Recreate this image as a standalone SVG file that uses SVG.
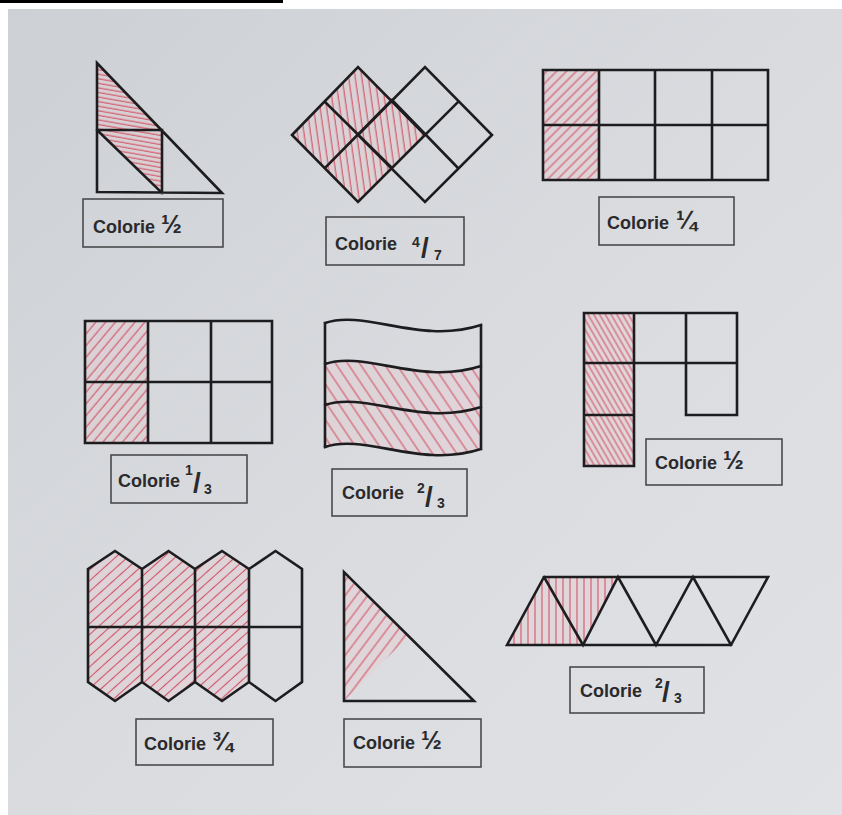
<svg xmlns="http://www.w3.org/2000/svg" width="842" height="815" viewBox="0 0 842 815">
<defs>
<linearGradient id="paper" x1="0" y1="0" x2="1" y2="1">
<stop offset="0" stop-color="#cdd0d4"/>
<stop offset="0.5" stop-color="#d9dbdf"/>
<stop offset="1" stop-color="#e0e2e6"/>
</linearGradient>
<pattern id="p1" width="10" height="4.5" patternUnits="userSpaceOnUse" patternTransform="rotate(10)"><line class="hl" x1="0" y1="2" x2="10" y2="2"/></pattern>
<pattern id="p2" width="6.5" height="10" patternUnits="userSpaceOnUse" patternTransform="rotate(-8)"><line class="hl" x1="3" y1="0" x2="3" y2="10"/></pattern>
<pattern id="p3" width="7" height="10" patternUnits="userSpaceOnUse" patternTransform="rotate(45)"><line class="hl" x1="3" y1="0" x2="3" y2="10"/></pattern>
<pattern id="p4" width="7.5" height="10" patternUnits="userSpaceOnUse" patternTransform="rotate(40)"><line class="hl" x1="3" y1="0" x2="3" y2="10"/></pattern>
<pattern id="p5" width="10" height="10" patternUnits="userSpaceOnUse" patternTransform="rotate(-34)"><line class="hl" x1="5" y1="0" x2="5" y2="10"/></pattern>
<pattern id="p6" width="5" height="10" patternUnits="userSpaceOnUse" patternTransform="rotate(-30)"><line class="hl" x1="2" y1="0" x2="2" y2="10"/></pattern>
<pattern id="p7" width="8" height="10" patternUnits="userSpaceOnUse" patternTransform="rotate(48)"><line class="hl" x1="3.5" y1="0" x2="3.5" y2="10"/></pattern>
<pattern id="p8" width="9" height="10" patternUnits="userSpaceOnUse" patternTransform="rotate(37)"><line class="hl" x1="4" y1="0" x2="4" y2="10"/></pattern>
<pattern id="p9" width="7" height="10" patternUnits="userSpaceOnUse"><line class="hl" x1="3" y1="0" x2="3" y2="10"/></pattern>
</defs>
<style>
.hl{stroke:#cf3d50;stroke-width:1.1;stroke-opacity:.85}
.tint{fill:#e9c9cf;fill-opacity:.35;stroke:none}
.sh{fill:none;stroke:#1d1d1f;stroke-width:2.6;stroke-linejoin:miter;stroke-linecap:square}
.box{fill:none;stroke:#4a4a4c;stroke-width:1.6}
.lbl{font-family:"Liberation Sans",Arial,sans-serif;font-weight:bold;font-size:18px;fill:#2a2a2c}
.fr{font-size:25px}
.sup{font-family:"Liberation Sans",Arial,sans-serif;font-weight:bold;font-size:14px;fill:#2a2a2c}
.sl{font-family:"Liberation Sans",Arial,sans-serif;font-weight:bold;font-size:28px;fill:#2a2a2c}
</style>
<rect width="842" height="815" fill="#ffffff"/>
<rect x="8" y="9" width="834" height="806" fill="url(#paper)"/>
<line x1="0" y1="1.5" x2="283" y2="1.5" stroke="#000" stroke-width="3"/>

<g id="fig1">
<path class="tint" d="M97,63 L97,130 L161,130 Z M97,130 L162,130 L162,193 Z"/>
<path fill="url(#p1)" d="M97,63 L97,130 L161,130 Z M97,130 L162,130 L162,193 Z"/>
<path class="sh" d="M97,63 L97,192 L222,193 Z M97,130 L162,130 L162,193 M97,130 L162,193"/>
<rect class="box" x="83" y="199" width="140" height="48"/>
<text class="lbl" x="93" y="233">Colorie<tspan class="fr" x="161">½</tspan></text>
</g>

<g id="fig2">
<path class="tint" d="M292,135 L358,67 L425,135 L358,202 Z"/>
<path fill="url(#p2)" d="M292,135 L358,67 L425,135 L358,202 Z"/>
<path class="sh" d="M292,135 L358,67 L425,135 L358,202 Z M358,135 L425,67 L492,135 L425,202 Z M325,102 L392,168 M325,168 L392,100 M392,100 L458,168 M392,168 L458,102"/>
<rect class="box" x="326" y="217" width="138" height="48"/>
<text class="lbl" x="335" y="250">Colorie</text>
<text class="sup" x="412" y="247">4</text>
<text class="sl" x="421" y="257">/</text>
<text class="sup" x="434" y="260">7</text>
</g>

<g id="fig3">
<rect class="tint" x="543" y="70" width="56" height="110"/>
<rect fill="url(#p3)" x="543" y="70" width="56" height="110"/>
<path class="sh" d="M543,70 H768 V180 H543 Z M599,70 V180 M655,70 V180 M712,70 V180 M543,125 H768"/>
<rect class="box" x="599" y="197" width="135" height="48"/>
<text class="lbl" x="607" y="229">Colorie<tspan class="fr" x="676">¼</tspan></text>
</g>

<g id="fig4">
<rect class="tint" x="85" y="321" width="63" height="122"/>
<rect fill="url(#p4)" x="85" y="321" width="63" height="122"/>
<path class="sh" d="M85,321 H272 V443 H85 Z M148,321 V443 M211,321 V443 M85,382 H272"/>
<rect class="box" x="111" y="455" width="136" height="48"/>
<text class="lbl" x="118" y="487">Colorie</text>
<text class="sup" x="185" y="475">1</text>
<text class="sl" x="193" y="492">/</text>
<text class="sup" x="204" y="494">3</text>
</g>

<g id="fig5">
<path class="tint" d="M325,364 C365,350 420,386 481,366 L481,449 C420,469 365,433 325,447 Z"/>
<path fill="url(#p5)" d="M325,364 C365,350 420,386 481,366 L481,449 C420,469 365,433 325,447 Z"/>
<path class="sh" d="M325,323 C365,309 420,345 481,325 M325,364 C365,350 420,386 481,366 M325,405 C365,391 420,427 481,407 M325,447 C365,433 420,469 481,449 M325,323 V447 M481,325 V449"/>
<rect class="box" x="332" y="469" width="135" height="47"/>
<text class="lbl" x="342" y="499">Colorie</text>
<text class="sup" x="417" y="493">2</text>
<text class="sl" x="425" y="506">/</text>
<text class="sup" x="437" y="508">3</text>
</g>

<g id="fig6">
<rect class="tint" x="584" y="313" width="50" height="153"/>
<rect fill="url(#p6)" x="584" y="313" width="50" height="153"/>
<path class="sh" d="M584,313 H737 V415 H686 V313 M584,313 V466 H634 V313 M584,363 H737 M584,415 H634"/>
<rect class="box" x="646" y="439" width="136" height="46"/>
<text class="lbl" x="655" y="469">Colorie<tspan class="fr" x="723">½</tspan></text>
</g>

<g id="fig7">
<path class="tint" d="M88,569 L115,551 L142,569 L168.5,551 L195,569 L222,551 L249,569 L249,682 L222,701 L195,682 L168.5,701 L142,682 L115,701 L88,682 Z"/>
<path fill="url(#p7)" d="M88,569 L115,551 L142,569 L168.5,551 L195,569 L222,551 L249,569 L249,682 L222,701 L195,682 L168.5,701 L142,682 L115,701 L88,682 Z"/>
<path class="sh" d="M88,569 L115,551 L142,569 L168.5,551 L195,569 L222,551 L249,569 L275.5,551 L302,569 L302,682 L275.5,701 L249,682 L222,701 L195,682 L168.5,701 L142,682 L115,701 L88,682 Z M142,569 V682 M195,569 V682 M249,569 V682 M88,627 H302"/>
<rect class="box" x="136" y="719" width="137" height="46"/>
<text class="lbl" x="144" y="750">Colorie<tspan class="fr" x="212">¾</tspan></text>
</g>

<g id="fig8">
<path class="tint" d="M344,572 L344,701 L409,636 Z"/>
<path fill="url(#p8)" d="M344,572 L344,701 L409,636 Z"/>
<path class="sh" d="M344,572 L344,701 L474,701 Z"/>
<rect class="box" x="344" y="719" width="137" height="48"/>
<text class="lbl" x="353" y="749">Colorie<tspan class="fr" x="421">½</tspan></text>
</g>

<g id="fig9">
<path class="tint" d="M507,645 L544,577 L618,577 L583,645 Z"/>
<path fill="url(#p9)" d="M507,645 L544,577 L618,577 L583,645 Z"/>
<path class="sh" d="M507,645 L544,577 L768,577 L731,645 Z M544,577 L583,645 L618,577 L656,645 L693,577 L731,645"/>
<rect class="box" x="570" y="667" width="134" height="46"/>
<text class="lbl" x="580" y="697">Colorie</text>
<text class="sup" x="655" y="688">2</text>
<text class="sl" x="662" y="701">/</text>
<text class="sup" x="674" y="703">3</text>
</g>
</svg>
